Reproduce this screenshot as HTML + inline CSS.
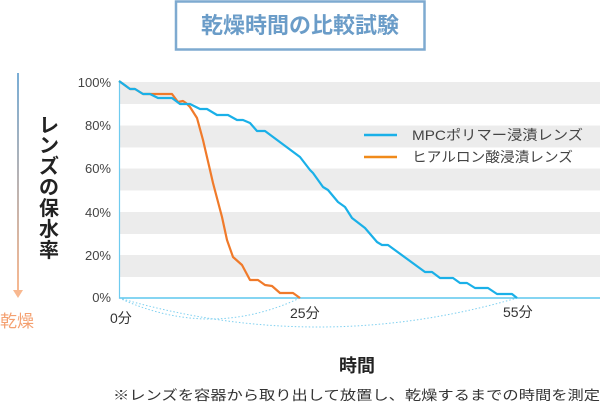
<!DOCTYPE html>
<html><head><meta charset="utf-8"><style>
html,body{margin:0;padding:0;background:#fff;}
body{width:600px;height:404px;overflow:hidden;}
svg text{font-family:"Liberation Sans","Noto Sans CJK JP",sans-serif;}
</style></head><body>
<svg width="600" height="404" viewBox="0 0 600 404" xmlns="http://www.w3.org/2000/svg">
<defs><linearGradient id="g" x1="0" y1="0" x2="0" y2="1"><stop offset="0" stop-color="#7aaed6"/><stop offset="1" stop-color="#f8b890"/></linearGradient></defs>
<rect x="176" y="1.5" width="248.5" height="48" fill="#fff" stroke="#7eaad0" stroke-width="2.5"/>
<text x="300" y="33" text-anchor="middle" font-size="22" font-weight="bold" fill="#6a9cc8">乾燥時間の比較試験</text>
<g fill="#ececec">
<rect x="119" y="82" width="481" height="22"/><rect x="119" y="125.5" width="481" height="22"/><rect x="119" y="168.5" width="481" height="22"/><rect x="119" y="212" width="481" height="22"/><rect x="119" y="255" width="481" height="22"/>
</g>
<line x1="119.5" y1="81" x2="119.5" y2="298" stroke="#6fcbef" stroke-width="1.2"/>
<line x1="119" y1="298" x2="600" y2="298" stroke="#3cbcea" stroke-width="1.2"/>
<g font-size="13" fill="#444" text-anchor="end">
<text x="111" y="87">100%</text><text x="111" y="130">80%</text><text x="111" y="173">60%</text><text x="111" y="217">40%</text><text x="111" y="260">20%</text><text x="111" y="302">0%</text>
</g>
<rect x="17" y="73" width="2" height="219" fill="url(#g)"/>
<polygon points="13,290 23,290 18,298" fill="#f8b890"/>
<text x="0" y="327" font-size="17" fill="#f4a070">乾燥</text>
<g font-size="20" font-weight="bold" fill="#222" text-anchor="middle">
<text x="49" y="132">レ</text><text x="49" y="152">ン</text><text x="49" y="173">ズ</text><text x="49" y="194">の</text><text x="49" y="215">保</text><text x="49" y="236">水</text><text x="49" y="257">率</text>
</g>
<path d="M119,298 Q210,340 300,298" fill="none" stroke="#7fd0f0" stroke-width="1" stroke-dasharray="1.5,2"/>
<path d="M119,298 Q318,356 517,298" fill="none" stroke="#7fd0f0" stroke-width="1" stroke-dasharray="1.5,2"/>
<polyline fill="none" stroke="#f07a2a" stroke-width="2.2" stroke-linejoin="round" points="119,81 130,89 135,89 143,94 172,94 178,102 183,101 186,103 190,107 197,118 203,140 210,170 213,183 222,217 227,240 233,257 242,265 250,280 258,280 265,285 272,286 280,293 293,293 300,298"/>
<polyline fill="none" stroke="#1ab0e8" stroke-width="2.2" stroke-linejoin="round" points="119,81 130,89 135,89 143,94 150,94 158,98 172,98 180,104 190,104 200,109 207,109 217,115 228,115 237,120 243,120 250,123 257,131 265,131 300,157 310,170 313,173 323,187 328,190 338,202 345,207 352,218 365,228 377,242 382,245 388,245 425,272 432,272 440,278 453,278 460,283 467,283 475,288 488,288 497,294 512,294 517,298"/>
<line x1="364" y1="135" x2="397" y2="135" stroke="#1ab0e8" stroke-width="2.5"/>
<line x1="364" y1="157" x2="397" y2="157" stroke="#f08a1a" stroke-width="2.5"/>
<g font-size="14" fill="#444">
<text x="412" y="140" textLength="171" lengthAdjust="spacingAndGlyphs">MPCポリマー浸漬レンズ</text>
<text x="412" y="162" textLength="161" lengthAdjust="spacingAndGlyphs">ヒアルロン酸浸漬レンズ</text>
</g>
<g font-size="14" fill="#333">
<text x="110" y="323">0分</text><text x="290" y="318">25分</text><text x="503" y="317">55分</text>
</g>
<text x="357" y="372" text-anchor="middle" font-size="18" font-weight="bold" fill="#222">時間</text>
<text x="113" y="400" font-size="13.5" fill="#333" textLength="487" lengthAdjust="spacingAndGlyphs">※レンズを容器から取り出して放置し、乾燥するまでの時間を測定</text>
</svg>
</body></html>
